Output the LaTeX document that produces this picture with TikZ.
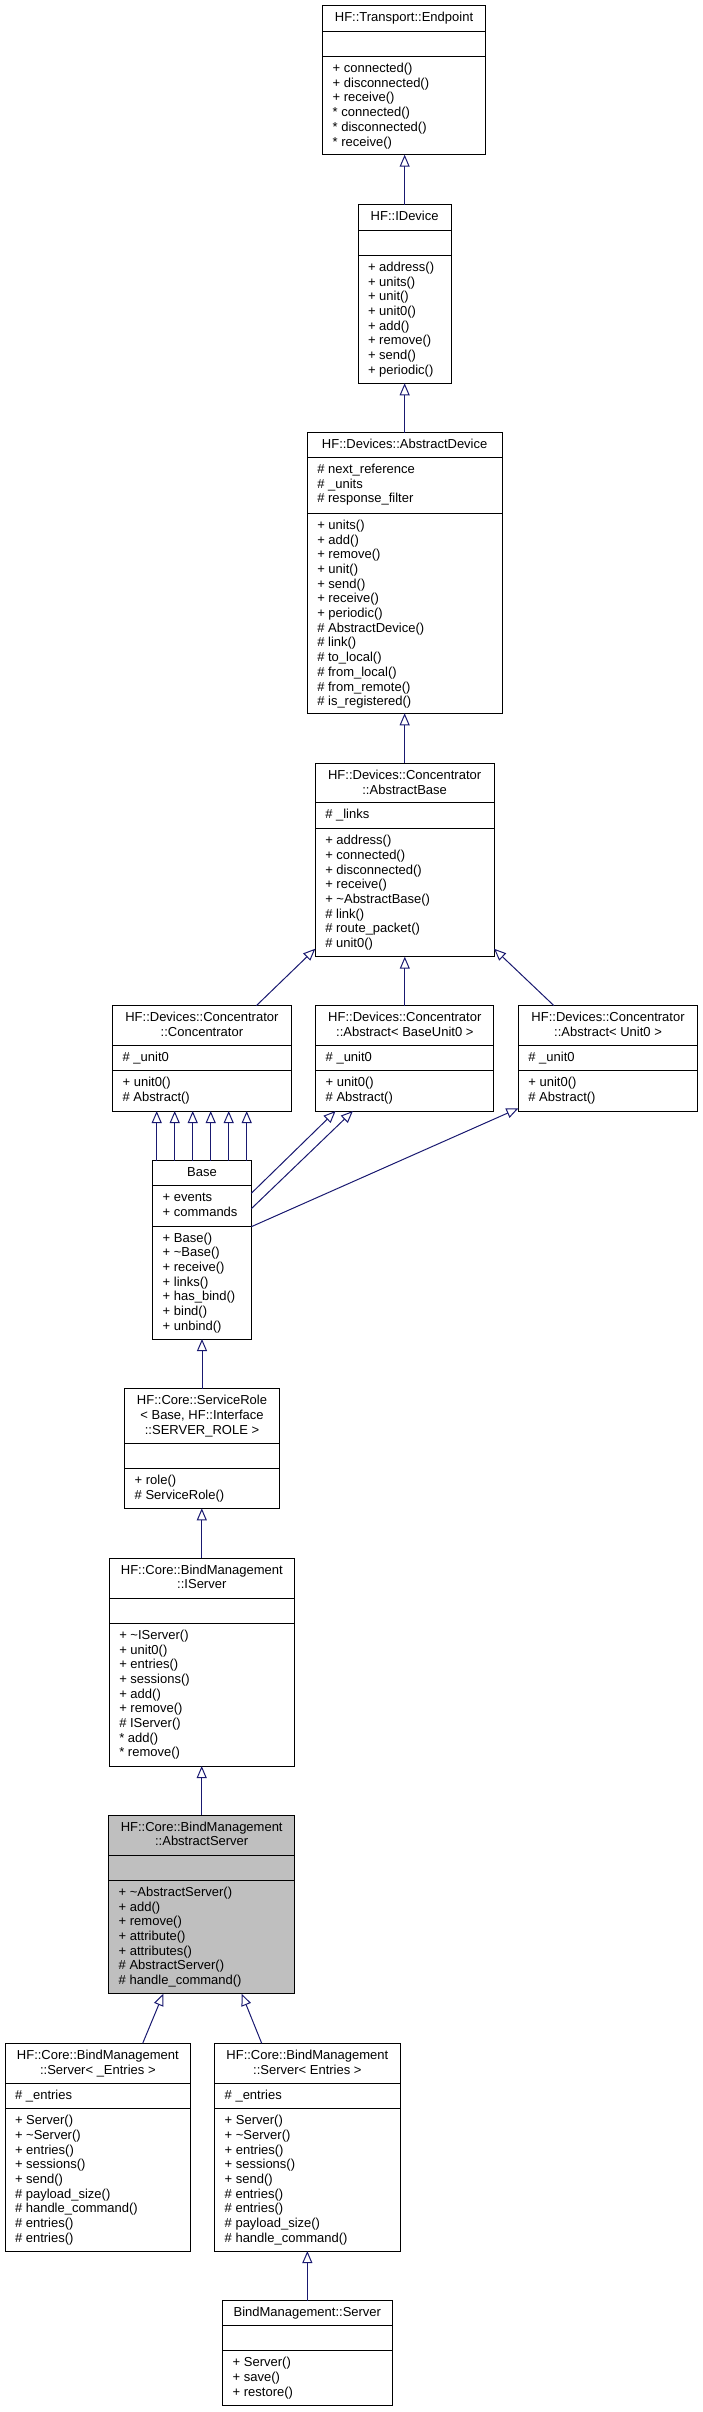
\documentclass[tikz,border=0pt]{standalone}
\usepackage{fontspec}
\setmainfont{Liberation Sans}
\usetikzlibrary{arrows.meta}
\definecolor{navyc}{HTML}{191970}
\definecolor{grayfill}{HTML}{BFBFBF}
\tikzset{
  classbox/.style={draw=black, line width=1pt, rectangle, inner sep=0pt, outer sep=0pt},
  sepline/.style={draw=black, line width=1pt},
  txt/.style={inner sep=0pt, outer sep=0pt, font=\fontsize{13}{14.7}\selectfont},
  inh/.style={draw=navyc, line width=1pt, -{Triangle[length=12pt,width=10pt,fill=white]}}
}
\newcommand\umlbox[8][white]{%
  \node[classbox, fill=#1, minimum width={#5-#3}, minimum height={#8-#4}] (#2) at ({(#3+#5)/2},{(#4+#8)/2}) {};
  \draw[sepline] (#2.west |- 0,#6) -- (#2.east |- 0,#6);
  \draw[sepline] (#2.west |- 0,#7) -- (#2.east |- 0,#7);
  \gdef\curL{#3}\gdef\curT{#4}\gdef\curR{#5}\gdef\curSa{#6}\gdef\curSb{#7}\gdef\curN{#2}%
}
\newcommand\umltitle[1]{%
  \foreach \t [count=\i] in {#1} \node[txt, anchor=base] (\curN-t\i) at ({(\curL+\curR)/2},{\curT+16+(\i-1)*14.7}) {\t};
}
\newcommand\umlattrs[1]{%
  \foreach \t [count=\i] in {#1} \node[txt, anchor=base west] (\curN-a\i) at ({\curL+10},{\curSa+16+(\i-1)*14.7}) {\t};
}
\newcommand\umlmeths[1]{%
  \foreach \t [count=\i] in {#1} \node[txt, anchor=base west] (\curN-m\i) at ({\curL+10},{\curSb+16+(\i-1)*14.7}) {\t};
}
\begin{document}
\begin{tikzpicture}[x=1pt, y=-1pt]
\useasboundingbox (0,0) rectangle (702,2412);

% Endpoint
\umlbox{ep}{322.7}{5.3}{485.3}{31.5}{56.5}{154.7}
\umltitle{HF::Transport::Endpoint}
\umlmeths{+ connected(), + disconnected(), + receive(), * connected(), * disconnected(), * receive()}

% IDevice
\umlbox{idev}{358}{204.7}{451.3}{230}{255.3}{383.3}
\umltitle{HF::IDevice}
\umlmeths{+ address(), + units(), + unit(), + unit0(), + add(), + remove(), + send(), + periodic()}

% AbstractDevice
\umlbox{adev}{307.3}{432.7}{502}{457.3}{513.3}{713.3}
\umltitle{HF::Devices::AbstractDevice}
\umlattrs{\# next\_reference, \# \_units, \# response\_filter}
\umlmeths{+ units(), + add(), + remove(), + unit(), + send(), + receive(), + periodic(), \# AbstractDevice(), \# link(), \# to\_local(), \# from\_local(), \# from\_remote(), \# is\_registered()}

% AbstractBase
\umlbox{abase}{315.3}{763.3}{494}{802.7}{828.7}{956.7}
\umltitle{HF::Devices::Concentrator, ::AbstractBase}
\umlattrs{\# \_links}
\umlmeths{+ address(), + connected(), + disconnected(), + receive(), + \textasciitilde AbstractBase(), \# link(), \# route\_packet(), \# unit0()}

% Concentrator
\umlbox{conc}{112.6}{1005.7}{291.2}{1045.7}{1070.7}{1111}
\umltitle{HF::Devices::Concentrator, ::Concentrator}
\umlattrs{\# \_unit0}
\umlmeths{+ unit0(), \# Abstract()}

% Abstract< BaseUnit0 >
\umlbox{abu0}{315.7}{1005.7}{493.9}{1045.7}{1070.7}{1111}
\umltitle{HF::Devices::Concentrator, ::Abstract< BaseUnit0 >}
\umlattrs{\# \_unit0}
\umlmeths{+ unit0(), \# Abstract()}

% Abstract< Unit0 >
\umlbox{au0}{518.4}{1005.7}{697.7}{1045.7}{1070.7}{1111}
\umltitle{HF::Devices::Concentrator, ::Abstract< Unit0 >}
\umlattrs{\# \_unit0}
\umlmeths{+ unit0(), \# Abstract()}

% Base
\umlbox{base}{152.7}{1160.7}{251.3}{1185.7}{1226}{1339}
\umltitle{Base}
\umlattrs{+ events, + commands}
\umlmeths{+ Base(), + \textasciitilde Base(), + receive(), + links(), + has\_bind(), + bind(), + unbind()}

% ServiceRole
\umlbox{srole}{124.7}{1388.7}{279.3}{1443.3}{1468.7}{1508.3}
\umltitle{HF::Core::ServiceRole, {< Base, HF::Interface}, ::SERVER\_ROLE >}
\umlmeths{+ role(), \# ServiceRole()}

% IServer
\umlbox{iserv}{109.3}{1558}{294.3}{1598}{1623.3}{1766}
\umltitle{HF::Core::BindManagement, ::IServer}
\umlmeths{+ \textasciitilde IServer(), + unit0(), + entries(), + sessions(), + add(), + remove(), \# IServer(), * add(), * remove()}

% AbstractServer
\umlbox[grayfill]{aserv}{108.7}{1815}{294.7}{1855.3}{1880.3}{1993.7}
\umltitle{HF::Core::BindManagement, ::AbstractServer}
\umlmeths{+ \textasciitilde AbstractServer(), + add(), + remove(), + attribute(), + attributes(), \# AbstractServer(), \# handle\_command()}

% Server< _Entries >
\umlbox{sa}{5}{2043.3}{190.7}{2083.3}{2108.7}{2251}
\umltitle{HF::Core::BindManagement, ::Server< \_Entries >}
\umlattrs{\# \_entries}
\umlmeths{+ Server(), + \textasciitilde Server(), + entries(), + sessions(), + send(), \# payload\_size(), \# handle\_command(), \# entries(), \# entries()}

% Server< Entries >
\umlbox{sb}{214.7}{2043.3}{400}{2083.3}{2108.7}{2251}
\umltitle{HF::Core::BindManagement, ::Server< Entries >}
\umlattrs{\# \_entries}
\umlmeths{+ Server(), + \textasciitilde Server(), + entries(), + sessions(), + send(), \# entries(), \# entries(), \# payload\_size(), \# handle\_command()}

% BindManagement::Server
\umlbox{bms}{222.7}{2300.7}{392}{2325.7}{2350.7}{2405.7}
\umltitle{BindManagement::Server}
\umlmeths{+ Server(), + save(), + restore()}

% Inheritance connectors
\draw[inh] (idev.north) -- (idev.north |- ep.south);
\draw[inh] (adev.north) -- (adev.north |- idev.south);
\draw[inh] (abase.north) -- (abase.north |- adev.south);
\draw[inh] (conc.north -| 256.3,0) -- (abase.west |- 0,948.7);
\draw[inh] (abu0.north) -- (abu0.north |- abase.south);
\draw[inh] (au0.north -| 554,0) -- (abase.east |- 0,948.7);
\foreach \xx in {156.7,174.7,192.7,210.7,228.7,246.7}
  \draw[inh] (base.north -| \xx,0) -- (conc.south -| \xx,0);
\draw[inh] (base.east |- 0,1193.3) -- (abu0.south -| 335.6,0);
\draw[inh] (base.east |- 0,1208.7) -- (abu0.south -| 352.9,0);
\draw[inh] (base.east |- 0,1226.7) -- (au0.west |- 0,1108.3);
\draw[inh] (srole.north) -- (srole.north |- base.south);
\draw[inh] (iserv.north) -- (iserv.north |- srole.south);
\draw[inh] (aserv.north) -- (aserv.north |- iserv.south);
\draw[inh] (sa.north -| 142.7,0) -- (aserv.south -| 163.3,0);
\draw[inh] (sb.north -| 261.7,0) -- (aserv.south -| 241.7,0);
\draw[inh] (bms.north) -- (bms.north |- sb.south);
\end{tikzpicture}
\end{document}
